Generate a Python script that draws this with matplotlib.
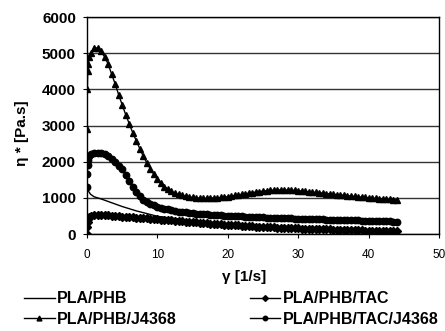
import numpy as np
import matplotlib
matplotlib.use("Agg")
import matplotlib.pyplot as plt

plt.rcParams['font.family'] = ['Liberation Sans', 'DejaVu Sans']

# shear rate points shared by the marker series
x = [0.02, 0.05, 0.1, 0.2, 0.3,
     0.5, 1.0, 1.5, 2.0, 2.5, 3.0, 3.5, 4.0, 4.5, 5.0, 5.5, 6.0, 6.5, 7.0, 7.5,
     8.0, 8.5, 9.0, 9.5, 10.0, 10.5, 11.0, 11.5, 12.0, 12.5, 13.0, 13.5, 14.0, 14.5,
     15.0, 15.5, 16.0, 16.5, 17.0, 17.5, 18.0, 18.5, 19.0, 19.5, 20.0, 20.5, 21.0,
     21.5, 22.0, 22.5, 23.0, 23.5, 24.0, 24.5, 25.0, 25.5, 26.0, 26.5, 27.0, 27.5,
     28.0, 28.5, 29.0, 29.5, 30.0, 30.5, 31.0, 31.5, 32.0, 32.5, 33.0, 33.5, 34.0,
     34.5, 35.0, 35.5, 36.0, 36.5, 37.0, 37.5, 38.0, 38.5, 39.0, 39.5, 40.0, 40.5,
     41.0, 41.5, 42.0, 42.5, 43.0, 43.5, 44.0]

pla_phb_j4368 = [2900, 4000, 4500, 4700, 4900,
                 5000, 5130, 5150, 5050, 4900, 4700, 4420, 4150, 3850, 3570, 3300, 3050, 2800, 2580, 2360,
                 2150, 1970, 1800, 1650, 1520, 1400, 1310, 1240, 1180, 1130, 1100, 1070, 1050, 1030,
                 1010, 1000, 990, 985, 985, 990, 995, 1000, 1010, 1020, 1035, 1050, 1065,
                 1080, 1100, 1115, 1130, 1145, 1160, 1175, 1185, 1195, 1205, 1210, 1215, 1220,
                 1220, 1215, 1210, 1205, 1200, 1190, 1180, 1170, 1160, 1150, 1140, 1130, 1120,
                 1110, 1100, 1090, 1080, 1070, 1060, 1050, 1040, 1030, 1020, 1010, 1000, 990,
                 985, 975, 970, 960, 955, 950, 945]

pla_phb_tac_j4368 = [1300, 1650, 1900, 2050, 2150,
                     2200, 2230, 2240, 2230, 2200, 2150, 2080, 1990, 1890, 1800, 1640, 1470, 1310, 1170, 1050,
                     950, 880, 830, 790, 760, 730, 705, 680, 660, 640, 620, 605, 595, 585,
                     575, 565, 555, 548, 540, 533, 527, 521, 515, 510, 505, 500, 495,
                     490, 485, 480, 476, 472, 468, 464, 460, 456, 452, 448, 444, 440,
                     437, 434, 431, 428, 425, 422, 419, 416, 413, 410, 407, 404, 401,
                     398, 395, 392, 389, 386, 383, 380, 377, 374, 371, 368, 365, 362,
                     359, 356, 353, 350, 347, 344, 341]

pla_phb_tac = [0, 200, 330, 420, 480,
               510, 530, 530, 525, 520, 512, 505, 498, 490, 483, 476, 469, 462, 455, 448,
               440, 432, 424, 416, 408, 400, 392, 384, 376, 368, 360, 352, 344, 336,
               328, 320, 312, 304, 296, 289, 282, 275, 268, 261, 254, 248, 242,
               236, 230, 224, 218, 212, 207, 202, 197, 192, 187, 182, 178, 174,
               170, 166, 162, 158, 154, 150, 146, 143, 140, 137, 134, 131, 128,
               125, 122, 119, 116, 113, 110, 107, 104, 101, 98, 96, 94, 92,
               90, 88, 86, 84, 82, 80, 78]

# plain line series
x_line = [0.1, 0.3, 0.5, 1, 1.5, 2, 3, 4, 5, 6, 7, 8, 9, 10, 12, 14, 16, 18, 20,
          22, 25, 28, 31, 34, 37, 40, 44]
pla_phb = [1200, 1160, 1100, 1030, 1000, 970, 900, 830, 760, 700, 640, 590, 540,
           490, 440, 390, 340, 300, 260, 230, 190, 160, 140, 120, 100, 90, 80]

fig = plt.figure(figsize=(4.45, 3.31), dpi=100)
ax = fig.add_axes([0.1955, 0.293, 0.791, 0.6556])

l1, = ax.plot(x_line, pla_phb, color='black', lw=1.0, label='PLA/PHB')
l3, = ax.plot(x, pla_phb_tac, color='black', lw=1.0, marker='D', ms=4.2,
              label='PLA/PHB/TAC')
l2, = ax.plot(x, pla_phb_j4368, color='black', lw=1.0, marker='^', ms=5,
              label='PLA/PHB/J4368')
l4, = ax.plot(x, pla_phb_tac_j4368, color='black', lw=1.0, marker='o', ms=4.6,
              label='PLA/PHB/TAC/J4368')

ax.set_xlim(0, 50)
ax.set_ylim(0, 6000)
ax.set_xticks(np.arange(0, 51, 10))
ax.set_yticks(np.arange(0, 6001, 1000))
ax.yaxis.grid(True, color='#333333', lw=1.0)
ax.set_axisbelow(True)
for s in ax.spines.values():
    s.set_linewidth(1.0)
ax.tick_params(axis='x', labelsize=8.5, length=3, width=0.8, direction='out', pad=8)
ax.tick_params(axis='y', labelsize=11, length=3, width=0.8, direction='out', pad=5)
for t in ax.get_yticklabels():
    t.set_fontweight('bold')

ax.set_xlabel('γ [1/s]', fontsize=11, fontweight='bold')
ax.set_ylabel('η * [Pa.s]', fontsize=11, fontweight='bold')
ax.xaxis.set_label_coords(0.446, -0.165)
ax.yaxis.set_label_coords(-0.165, 0.465)

fig.legend([l1, l2, l3, l4],
           ['PLA/PHB', 'PLA/PHB/J4368', 'PLA/PHB/TAC', 'PLA/PHB/TAC/J4368'],
           ncol=2, loc='center', bbox_to_anchor=(0.52, 0.066), frameon=False,
           prop={'size': 11.5, 'weight': 'bold'}, handlelength=1.9,
           handletextpad=0.15, columnspacing=4.6, labelspacing=0.35,
           markerscale=0.7, borderpad=0)

fig.savefig('out.png', dpi=100)
